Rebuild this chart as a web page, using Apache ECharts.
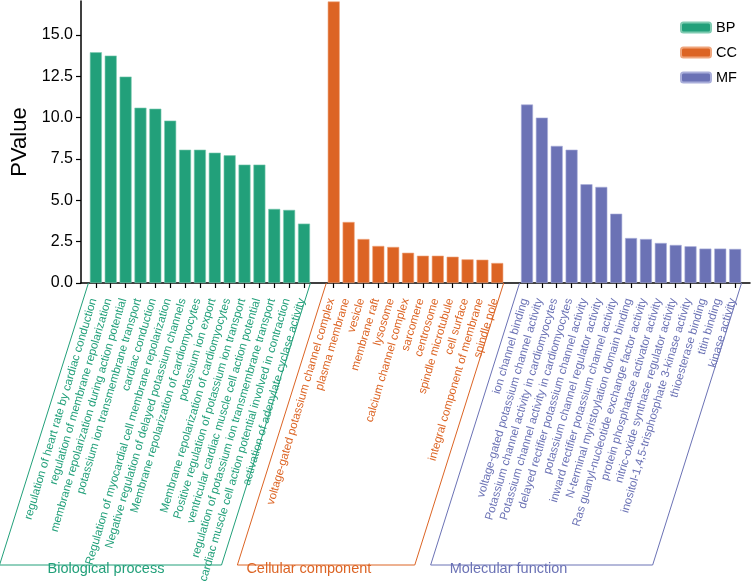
<!DOCTYPE html>
<html>
<head>
<meta charset="utf-8">
<script src="https://cdn.jsdelivr.net/npm/echarts@6/dist/echarts.min.js"></script>
<style>html,body{margin:0;padding:0;background:#fff;}#c{width:753px;height:583px;}</style>
</head>
<body>
<div id="c"></div>
<script>
const bpTerms = [
  'regulation of heart rate by cardiac conduction',
  'regulation of membrane repolarization',
  'membrane repolarization during action potential',
  'potassium ion transmembrane transport',
  'cardiac conduction',
  'Regulation of myocardial cell membrane repolarization',
  'Negative regulation of delayed potassium channels',
  'Membrane repolarization of cardiomyocytes',
  'potassium ion export',
  'Membrane repolarization of cardiomyocytes',
  'Positive regulation of potassium ion transport',
  'ventricular cardiac muscle cell action potential',
  'regulation of potassium ion transmembrane transport',
  'cardiac muscle cell action potential involved in contraction',
  'activation of adenylate cyclase activity'
];
const bpValues = [13.95, 13.75, 12.48, 10.60, 10.54, 9.82, 8.06, 8.06, 7.88, 7.72, 7.16, 7.16, 4.48, 4.42, 3.59];

const ccTerms = [
  'voltage-gated potassium channel complex',
  'plasma membrane',
  'vesicle',
  'membrane raft',
  'lysosome',
  'calcium channel complex',
  'sarcomere',
  'centrosome',
  'spindle microtubule',
  'cell surface',
  'integral component of membrane',
  'spindle pole'
];
const ccValues = [17.02, 3.69, 2.66, 2.24, 2.18, 1.83, 1.65, 1.65, 1.59, 1.43, 1.41, 1.21];

const mfTerms = [
  'ion channel binding',
  'voltage-gated potassium channel activity',
  'Potassium channel activity in cardiomyocytes',
  'Potassium channel activity in cardiomyocytes',
  'delayed rectifier potassium channel activity',
  'potassium channel regulator activity',
  'inward rectifier potassium channel activity',
  'N-terminal myristoylation domain binding',
  'Ras guanyl-nucleotide exchange factor activity',
  'protein phosphatase activator activity',
  'nitric-oxide synthase regulator activity',
  'inositol-1,4,5-trisphosphate 3-kinase activity',
  'thioesterase binding',
  'titin binding',
  'kinase activity'
];
const mfValues = [10.79, 10.00, 8.29, 8.06, 5.97, 5.81, 4.19, 2.72, 2.66, 2.42, 2.30, 2.22, 2.08, 2.08, 2.06];

const groupNames = ['BP', 'CC', 'MF'];
const groupTitles = ['Biological process', 'Cellular component', 'Molecular function'];
const yTicks = [0, 2.5, 5, 7.5, 10, 12.5, 15];

const colors = ['#22A07A', '#DC6424', '#6B72B5'];
const borders = ['#7FCBB1', '#EFA57C', '#A9AEDA'];

// Build category axis: leading gap, groups separated by one empty slot, trailing gap
const groups = [[bpTerms, bpValues], [ccTerms, ccValues], [mfTerms, mfValues]];
const categories = [''];
const groupOf = [-1];
const ranges = [];
groups.forEach(function (g, gi) {
  const start = categories.length;
  g[0].forEach(function (t) { categories.push(t); groupOf.push(gi); });
  ranges.push([start, categories.length - 1]);
  categories.push(''); groupOf.push(-1);
});

const seriesData = groups.map(function (g, gi) {
  const arr = categories.map(function () { return '-'; });
  g[1].forEach(function (v, i) { arr[ranges[gi][0] + i] = v; });
  return arr;
});

const chart = echarts.init(document.getElementById('c'), null, {renderer: 'canvas'});
const FONT = '"Liberation Sans", Arial, Helvetica, sans-serif';

chart.setOption({
  animation: false,
  backgroundColor: '#fff',
  textStyle: {fontFamily: FONT},
  grid: {left: 81, right: 3, top: 1, bottom: 300, containLabel: false, outerBoundsMode: 'none'},
  legend: {
    orient: 'vertical',
    left: 675, top: 15,
    itemWidth: 30, itemHeight: 10, itemGap: 10,
    textStyle: {fontSize: 14.5, color: '#000', fontFamily: FONT},
    data: groupNames
  },
  xAxis: {
    type: 'category',
    data: categories,
    boundaryGap: false,
    axisLine: {lineStyle: {color: '#000', width: 1.5}},
    axisTick: {
      length: 5, lineStyle: {color: '#000', width: 1.2},
      interval: function (idx) { return groupOf[idx] >= 0; }
    },
    axisLabel: {
      interval: 0, rotate: 73.5, fontSize: 11.5, margin: 8, fontFamily: FONT,
      padding: [0, 8, 6, 0],
      color: function (v, idx) { return groupOf[idx] >= 0 ? colors[groupOf[idx]] : '#000'; }
    },
    splitLine: {show: false}
  },
  yAxis: {
    type: 'value',
    min: 0, max: 17.05,
    name: 'PValue',
    nameLocation: 'middle',
    nameGap: 50,
    nameTextStyle: {fontSize: 22, color: '#000', fontFamily: FONT},
    axisLine: {show: true, lineStyle: {color: '#000', width: 1.5}},
    axisTick: {show: true, length: 5, lineStyle: {color: '#000', width: 1.2}, customValues: yTicks},
    axisLabel: {fontSize: 16, color: '#000', margin: 8, fontFamily: FONT,
      customValues: yTicks,
      formatter: function (v) { return v.toFixed(1); }},
    splitLine: {show: false}
  },
  series: groupNames.map(function (n, gi) {
    return {
      name: n, type: 'bar', data: seriesData[gi],
      barWidth: 12, barGap: '-100%',
      itemStyle: {color: colors[gi], borderColor: borders[gi], borderWidth: 0.6}
    };
  })
});

// Parallelogram brackets around each group's labels
function drawBoxes() {
  const y0 = chart.convertToPixel({yAxisIndex: 0}, 0);
  const p0 = chart.convertToPixel({xAxisIndex: 0}, 0);
  const p1 = chart.convertToPixel({xAxisIndex: 0}, 1);
  const pitch = p1 - p0;
  const yBot = 565;
  const slant = (yBot - y0) / Math.tan(72.5 * Math.PI / 180);
  const textOffsets = [48, 9, 19];
  const gfx = [];
  ranges.forEach(function (r, gi) {
    const xl = chart.convertToPixel({xAxisIndex: 0}, r[0]) - pitch / 2;
    const xr = chart.convertToPixel({xAxisIndex: 0}, r[1]) + pitch / 2 - 1;
    gfx.push({
      type: 'polyline', z: 1,
      shape: {points: [[xl, y0], [xl - slant, yBot], [xr - slant, yBot], [xr, y0]]},
      style: {stroke: colors[gi], lineWidth: 1, fill: null}
    });
    gfx.push({
      type: 'text', z: 2,
      x: xl - slant + textOffsets[gi], y: yBot + 4,
      style: {text: groupTitles[gi], fill: colors[gi], fontSize: 14.5, fontFamily: FONT,
        textAlign: 'left', textVerticalAlign: 'middle'}
    });
  });
  chart.setOption({graphic: gfx});
}
drawBoxes();
</script>
</body>
</html>
